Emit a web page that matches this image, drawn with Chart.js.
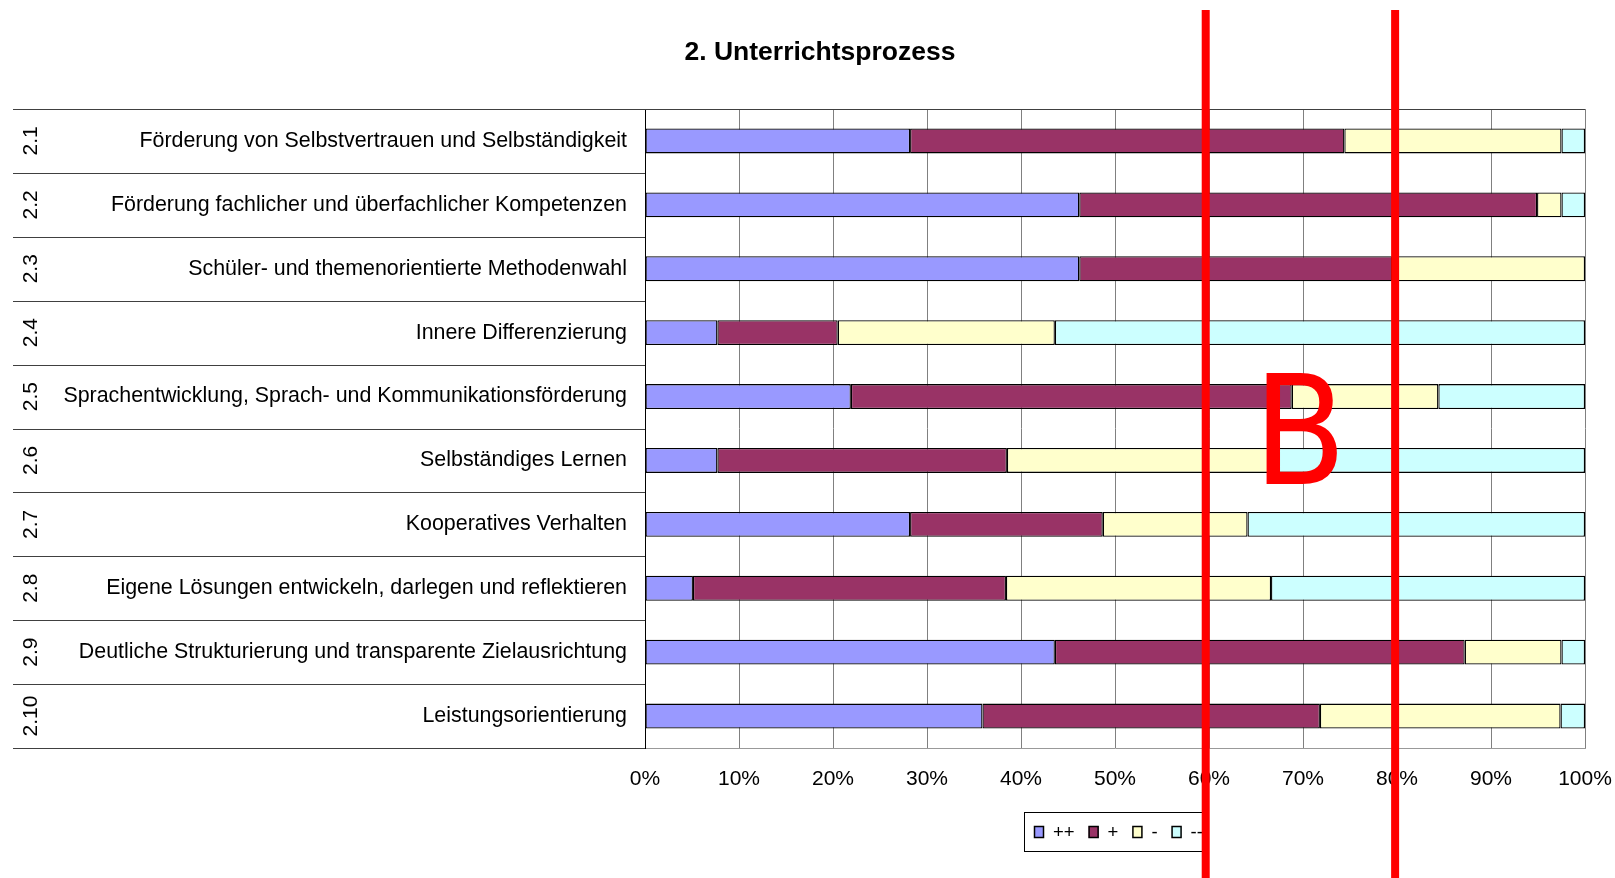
<!DOCTYPE html>
<html><head><meta charset="utf-8">
<script src="https://cdn.jsdelivr.net/npm/chart.js@4.4.1/dist/chart.umd.min.js"></script>
<style>html,body{margin:0;padding:0;background:#fff}#wrap{width:1615px;height:878px}</style>
</head><body><div id="wrap"><canvas id="c" width="1615" height="878"></canvas></div>
<script>
const title = '2. Unterrichtsprozess';
const codes = ['2.1','2.2','2.3','2.4','2.5','2.6','2.7','2.8','2.9','2.10'];
const categories = [
  'Förderung von Selbstvertrauen und Selbständigkeit',
  'Förderung fachlicher und überfachlicher Kompetenzen',
  'Schüler- und themenorientierte Methodenwahl',
  'Innere Differenzierung',
  'Sprachentwicklung, Sprach- und Kommunikationsförderung',
  'Selbständiges Lernen',
  'Kooperatives Verhalten',
  'Eigene Lösungen entwickeln, darlegen und reflektieren',
  'Deutliche Strukturierung und transparente Zielausrichtung',
  'Leistungsorientierung'
];
const seriesNames = ['++', '+', '-', '--'];
const plusPlus   = [28.2, 46.2, 46.2,  7.7, 21.9,  7.7, 28.2,  5.1, 43.6, 35.9];
const plus       = [46.2, 48.7, 33.3, 12.8, 46.9, 30.8, 20.5, 33.3, 43.6, 35.9];
const minus      = [23.1,  2.6, 20.5, 23.1, 15.6, 28.2, 15.4, 28.2, 10.3, 25.6];
const minusMinus = [ 2.5,  2.5,  0.0, 56.4, 15.6, 33.3, 35.9, 33.4,  2.5,  2.6];
const xTicks = [0, 10, 20, 30, 40, 50, 60, 70, 80, 90, 100];
const markLines = [59.65, 79.8];
const markLetter = 'B';
const markLetterAt = 64.7;

const colors = ['#9999FF', '#993366', '#FFFFCC', '#CCFFFF'];
const seriesData = [plusPlus, plus, minus, minusMinus];

const FONT = '"Liberation Sans", Arial, sans-serif';

const decor = {
  id: 'decor',
  afterDraw(chart) {
    const ctx = chart.ctx;
    const a = chart.chartArea;
    const ys = chart.scales.y;
    const xs = chart.scales.x;
    const n = categories.length;
    const rowH = (a.bottom - a.top) / n;
    ctx.save();
    // separators in label area
    ctx.strokeStyle = '#404040';
    ctx.lineWidth = 1;
    for (let i = 0; i <= n; i++) {
      const y = Math.round(a.top + i * rowH) + 0.5;
      ctx.beginPath();
      ctx.moveTo(13, y);
      ctx.lineTo(i === 0 ? a.right : a.left, y);
      ctx.stroke();
    }
    // rotated codes
    ctx.fillStyle = '#000';
    ctx.font = '21px ' + FONT;
    ctx.textAlign = 'center';
    ctx.textBaseline = 'middle';
    for (let i = 0; i < n; i++) {
      const y = ys.getPixelForValue(i);
      ctx.save();
      ctx.translate(31, y);
      ctx.rotate(-Math.PI / 2);
      ctx.fillText(codes[i], 0, 0);
      ctx.restore();
    }
    // title
    ctx.font = 'bold 26.5px ' + FONT;
    ctx.fillText(title, 820, 53);
    // legend
    const lx = 1024, ly = 812, lw = 181, lh = 39;
    ctx.fillStyle = '#fff';
    ctx.fillRect(lx, ly, lw, lh);
    ctx.strokeStyle = '#000';
    ctx.lineWidth = 1;
    ctx.strokeRect(lx + 0.5, ly + 0.5, lw, lh);
    ctx.font = '18.5px ' + FONT;
    ctx.textAlign = 'left';
    ctx.textBaseline = 'middle';
    let cx = 1034;
    const cy = ly + lh / 2 + 0.5;
    for (let k = 0; k < seriesNames.length; k++) {
      ctx.fillStyle = colors[k];
      ctx.fillRect(cx, cy - 6, 10, 12);
      ctx.strokeStyle = '#000';
      ctx.lineWidth = 1.5;
      ctx.strokeRect(cx + 0.5, cy - 5.5, 9, 11);
      ctx.fillStyle = '#000';
      ctx.fillText(seriesNames[k], cx + 19, cy + 1);
      cx += 19 + ctx.measureText(seriesNames[k]).width + 14;
    }
    // red marker lines
    ctx.strokeStyle = '#FF0000';
    ctx.lineWidth = 8;
    markLines.forEach(v => {
      const x = xs.getPixelForValue(v);
      ctx.beginPath();
      ctx.moveTo(x, 10);
      ctx.lineTo(x, chart.height);
      ctx.stroke();
    });
    // letter
    ctx.fillStyle = '#FF0000';
    ctx.font = '151px "DejaVu Sans Condensed", "DejaVu Sans", sans-serif';
    ctx.textAlign = 'left';
    ctx.textBaseline = 'alphabetic';
    ctx.fillText(markLetter, xs.getPixelForValue(markLetterAt), 484);
    ctx.restore();
  }
};

new Chart(document.getElementById('c'), {
  type: 'bar',
  data: {
    labels: categories,
    datasets: seriesNames.map((name, k) => ({
      label: name,
      data: seriesData[k],
      backgroundColor: colors[k],
      borderColor: '#000',
      borderWidth: 1.3,
      borderSkipped: false,
      categoryPercentage: 1,
      barPercentage: 0.39
    }))
  },
  options: {
    indexAxis: 'y',
    responsive: false,
    animation: false,
    devicePixelRatio: 1,
    layout: { padding: { top: 109, right: 30, left: 0, bottom: 0 } },
    plugins: { legend: { display: false }, tooltip: { enabled: false }, title: { display: false } },
    scales: {
      x: {
        stacked: true, min: 0, max: 100,
        afterBuildTicks(s) { s.ticks = xTicks.map(v => ({ value: v })); },
        afterFit(s) { s.height = 130; s.paddingLeft = 0; s.paddingRight = 0; },
        ticks: { callback: v => v + '%', color: '#000', font: { family: FONT, size: 21 }, padding: 19, maxRotation: 0, autoSkip: false },
        grid: { color: '#808080', lineWidth: 1, drawTicks: false },
        border: { display: true, color: '#999' }
      },
      y: {
        stacked: true,
        afterFit(s) { s.width = 645; s.paddingTop = 0; s.paddingBottom = 0; },
        ticks: { color: '#000', font: { family: FONT, size: 21.4 }, padding: 18, autoSkip: false },
        grid: { display: false, drawTicks: false },
        border: { display: true, color: '#000' }
      }
    }
  },
  plugins: [decor]
});
</script></body></html>
